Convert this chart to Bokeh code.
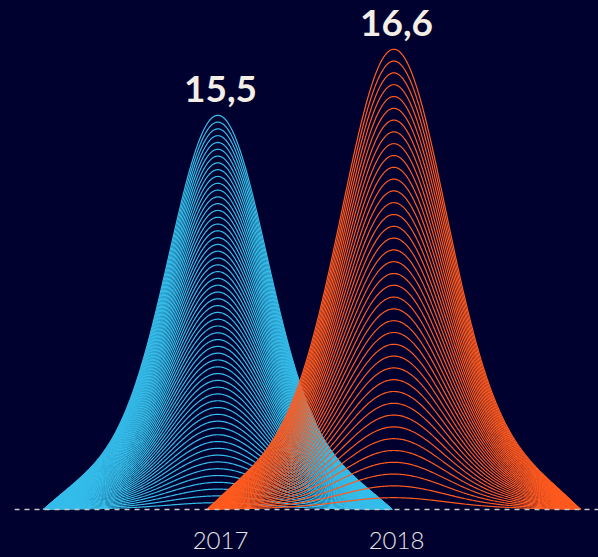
import numpy as np
from bokeh.plotting import figure
from bokeh.models import Range1d, Span, ColumnDataSource
from bokeh.core.properties import value
from bokeh.embed import file_html
from bokeh.resources import INLINE

# ---- data ----
years = ["2017", "2018"]
values = [15.5, 16.6]
value_labels = ["15,5", "16,6"]
line_counts = [58, 39]
colors = ["#35bdea", "#ff5a1f"]

BG = "#01012f"
BASE = 8.93            # value at the dashed baseline
WIDTH_PER_UNIT = 0.0638  # half-width of each bell in x units per unit of value


def bell(u):
    return (0.8 * np.exp(-u ** 2 / (2 * 0.27 ** 2)) +
            0.2 * np.exp(-u ** 2 / (2 * 0.6 ** 2))) * (1 - u ** 8)


p = figure(width=598, height=557,
           x_range=Range1d(-1.1705, 2.1477), y_range=Range1d(8.13, 17.413),
           output_backend="svg", toolbar_location=None,
           x_axis_location=None, y_axis_location=None,
           min_border_left=14, min_border_right=0,
           min_border_top=0, min_border_bottom=0)
p.grid.visible = False
p.background_fill_color = BG
p.border_fill_color = BG
p.outline_line_color = None

u = np.linspace(-1, 1, 361)
g = bell(u)
for i, (v, n, c) in enumerate(zip(values, line_counts, colors)):
    half = v * WIDTH_PER_UNIT
    xs, ys = [], []
    for k in range(1, n + 1):
        xs.append(i - 0.015 + u * half)
        ys.append(BASE + (k / n) * (v - BASE) * g)
    src = ColumnDataSource(dict(xs=xs, ys=ys))
    p.multi_line("xs", "ys", source=src, line_color=c, line_width=1.2)

p.add_layout(Span(location=BASE, dimension="width", line_color="#c8c8c8",
                  line_dash="5 5", line_width=1.5))

pos = list(range(len(years)))
p.text(x=pos, y=values, text=value_labels, text_align="center",
       text_baseline="alphabetic", y_offset=-26,
       text_font=value("Lato"), text_font_style="bold",
       text_font_size="37px", text_color="#f3eee6")

p.text(x=pos, y=[BASE] * len(years), text=years, text_align="center",
       text_baseline="bottom", y_offset=40,
       text_font=value("Lato Light"), text_font_size="24px",
       text_color="#e4e4e4")

html = file_html(p, INLINE)
html = html.replace("<head>", "<head><style>html,body{background:%s;}</style>" % BG, 1)
open("out.html", "w").write(html)
